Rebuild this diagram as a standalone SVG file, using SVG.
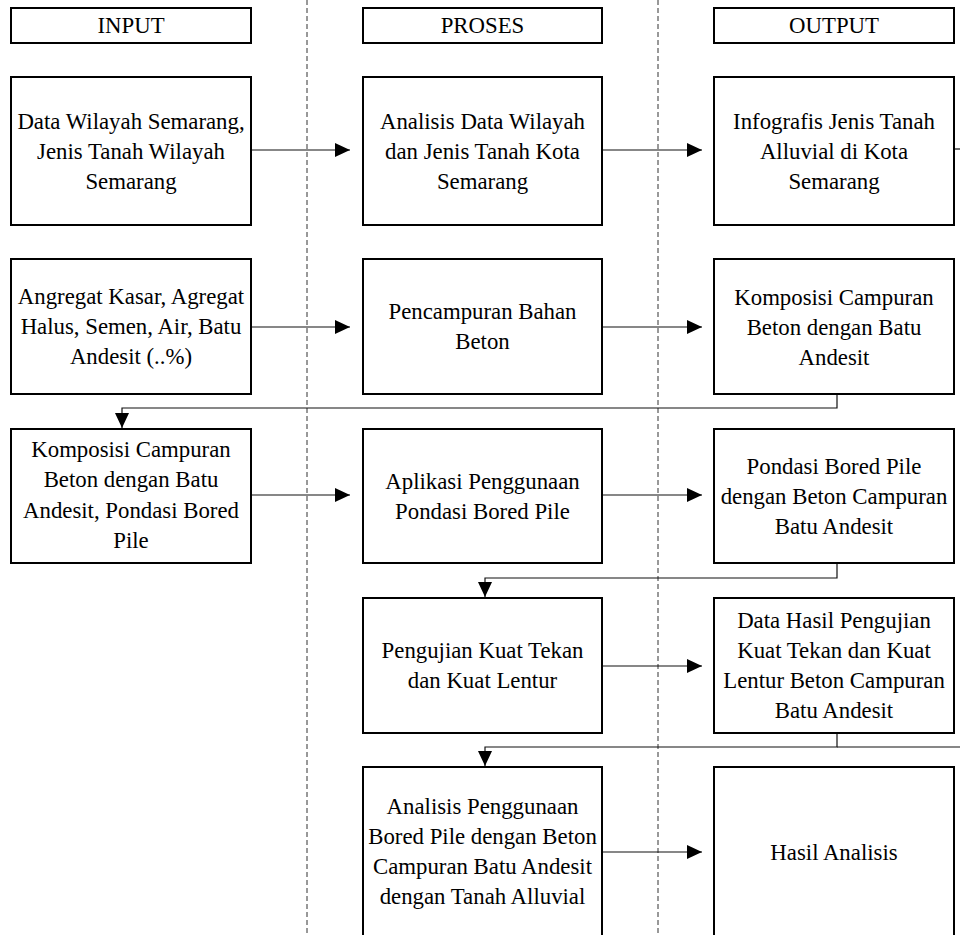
<svg xmlns="http://www.w3.org/2000/svg" width="960" height="935" viewBox="0 0 960 935">
<defs>
<style>
.box{fill:#fff;stroke:#000;stroke-width:2}
.t{font-family:"Liberation Serif","Times New Roman",serif;font-size:22.8px;fill:#000;text-anchor:middle}
.c{fill:none;stroke:#111;stroke-width:1.2}
.d{fill:none;stroke:#333;stroke-width:1;stroke-dasharray:5,3}
</style>
<marker id="ah" markerUnits="userSpaceOnUse" markerWidth="15" markerHeight="14" refX="15" refY="7" orient="auto">
<path d="M0,0 L15,7 L0,14 Z" fill="#000"/>
</marker>
</defs>
<rect width="960" height="935" fill="#fff"/>
<g id="lanes">
<line class="d" x1="307" y1="0" x2="307" y2="935"/>
<line class="d" x1="658" y1="0" x2="658" y2="935"/>
</g>
<g id="connectors">
<path class="c" d="M251,150 H350" marker-end="url(#ah)"/>
<path class="c" d="M602,150 H702" marker-end="url(#ah)"/>
<path class="c" d="M954,149 H960"/>
<path class="c" d="M251,327 H350" marker-end="url(#ah)"/>
<path class="c" d="M602,327 H702" marker-end="url(#ah)"/>
<path class="c" d="M837,394 V408 H122 V428" marker-end="url(#ah)"/>
<path class="c" d="M251,495 H350" marker-end="url(#ah)"/>
<path class="c" d="M602,495 H702" marker-end="url(#ah)"/>
<path class="c" d="M837,563 V578 H485 V597" marker-end="url(#ah)"/>
<path class="c" d="M602,666 H702" marker-end="url(#ah)"/>
<path class="c" d="M837,733 V747 H485 V766" marker-end="url(#ah)"/>
<path class="c" d="M837,747 H960"/>
<path class="c" d="M602,852 H702" marker-end="url(#ah)"/>
</g>
<g id="h-input"><rect class="box" x="11" y="8" width="240" height="35"/><text class="t" x="131" y="33">INPUT</text></g>
<g id="h-proses"><rect class="box" x="363" y="8" width="239" height="35"/><text class="t" x="482.5" y="33">PROSES</text></g>
<g id="h-output"><rect class="box" x="714" y="8" width="240" height="35"/><text class="t" x="834" y="33">OUTPUT</text></g>

<g id="in1"><rect class="box" x="11" y="77" width="240" height="148"/>
<text class="t" x="131" y="129">Data Wilayah Semarang,</text>
<text class="t" x="131" y="159">Jenis Tanah Wilayah</text>
<text class="t" x="131" y="189">Semarang</text></g>
<g id="pr1"><rect class="box" x="363" y="77" width="239" height="148"/>
<text class="t" x="482.5" y="129">Analisis Data Wilayah</text>
<text class="t" x="482.5" y="159">dan Jenis Tanah Kota</text>
<text class="t" x="482.5" y="189">Semarang</text></g>
<g id="out1"><rect class="box" x="714" y="77" width="240" height="148"/>
<text class="t" x="834" y="129">Infografis Jenis Tanah</text>
<text class="t" x="834" y="159">Alluvial di Kota</text>
<text class="t" x="834" y="189">Semarang</text></g>

<g id="in2"><rect class="box" x="11" y="259" width="240" height="135"/>
<text class="t" x="131" y="304">Angregat Kasar, Agregat</text>
<text class="t" x="131" y="334">Halus, Semen, Air, Batu</text>
<text class="t" x="131" y="364">Andesit (..%)</text></g>
<g id="pr2"><rect class="box" x="363" y="259" width="239" height="135"/>
<text class="t" x="482.5" y="319">Pencampuran Bahan</text>
<text class="t" x="482.5" y="349">Beton</text></g>
<g id="out2"><rect class="box" x="714" y="259" width="240" height="135"/>
<text class="t" x="834" y="305">Komposisi Campuran</text>
<text class="t" x="834" y="335">Beton dengan Batu</text>
<text class="t" x="834" y="365">Andesit</text></g>

<g id="in3"><rect class="box" x="11" y="429" width="240" height="134"/>
<text class="t" x="131" y="457">Komposisi Campuran</text>
<text class="t" x="131" y="487">Beton dengan Batu</text>
<text class="t" x="131" y="518">Andesit, Pondasi Bored</text>
<text class="t" x="131" y="548">Pile</text></g>
<g id="pr3"><rect class="box" x="363" y="429" width="239" height="134"/>
<text class="t" x="482.5" y="489">Aplikasi Penggunaan</text>
<text class="t" x="482.5" y="519">Pondasi Bored Pile</text></g>
<g id="out3"><rect class="box" x="714" y="429" width="240" height="134"/>
<text class="t" x="834" y="474">Pondasi Bored Pile</text>
<text class="t" x="834" y="504">dengan Beton Campuran</text>
<text class="t" x="834" y="534">Batu Andesit</text></g>

<g id="pr4"><rect class="box" x="363" y="598" width="239" height="135"/>
<text class="t" x="482.5" y="658">Pengujian Kuat Tekan</text>
<text class="t" x="482.5" y="688">dan Kuat Lentur</text></g>
<g id="out4"><rect class="box" x="714" y="598" width="240" height="135"/>
<text class="t" x="834" y="628">Data Hasil Pengujian</text>
<text class="t" x="834" y="658">Kuat Tekan dan Kuat</text>
<text class="t" x="834" y="688">Lentur Beton Campuran</text>
<text class="t" x="834" y="718">Batu Andesit</text></g>

<g id="pr5"><rect class="box" x="363" y="767" width="239" height="172"/>
<text class="t" x="482.5" y="814">Analisis Penggunaan</text>
<text class="t" x="482.5" y="844">Bored Pile dengan Beton</text>
<text class="t" x="482.5" y="874">Campuran Batu Andesit</text>
<text class="t" x="482.5" y="904">dengan Tanah Alluvial</text></g>
<g id="out5"><rect class="box" x="714" y="767" width="240" height="172"/>
<text class="t" x="834" y="860">Hasil Analisis</text></g>
</svg>
